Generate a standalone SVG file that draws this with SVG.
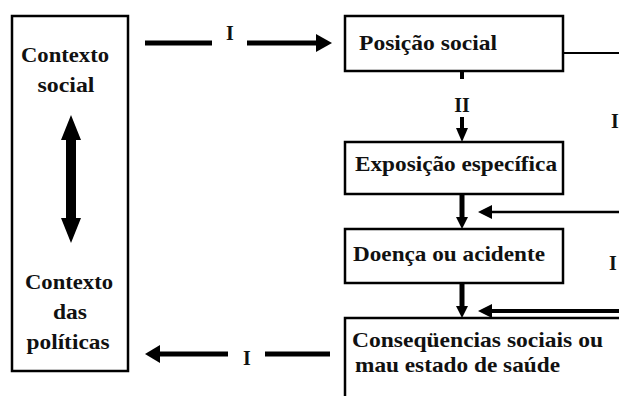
<svg xmlns="http://www.w3.org/2000/svg" width="619" height="396" viewBox="0 0 619 396">
<style>
.box{fill:#fff;stroke:#000;stroke-width:2.5}
.t{font-family:"Liberation Serif","Times New Roman",serif;font-weight:bold;fill:#111}
.bt{font-size:21px}
.lt{font-size:22px}
.lb{font-size:20px}
.ln{stroke:#000;fill:none}
.hd{fill:#000;stroke:none}
</style>
<rect width="619" height="396" fill="#fff"/>
<g id="contexto">
<rect class="box" x="12" y="16" width="116" height="355"/>
<text class="t lt" x="65" y="62" text-anchor="middle" textLength="88" lengthAdjust="spacingAndGlyphs">Contexto</text>
<text class="t lt" x="66" y="92" text-anchor="middle" textLength="57" lengthAdjust="spacingAndGlyphs">social</text>
<polygon class="hd" points="71,115 81,140 76,140 76,218 81,218 71,243 61,218 66,218 66,140 61,140"/>
<text class="t lt" x="69" y="289" text-anchor="middle" textLength="88" lengthAdjust="spacingAndGlyphs">Contexto</text>
<text class="t lt" x="70" y="319" text-anchor="middle" textLength="34" lengthAdjust="spacingAndGlyphs">das</text>
<text class="t lt" x="68" y="349" text-anchor="middle" textLength="83" lengthAdjust="spacingAndGlyphs">políticas</text>
</g>
<g id="posicao">
<rect class="box" x="345" y="16" width="218" height="55"/>
<text class="t bt" x="359" y="50" textLength="138" lengthAdjust="spacingAndGlyphs">Posição social</text>
</g>
<g id="exposicao">
<rect class="box" x="345" y="142" width="218" height="52"/>
<text class="t bt" x="355" y="171" textLength="202" lengthAdjust="spacingAndGlyphs">Exposição específica</text>
</g>
<g id="doenca">
<rect class="box" x="345" y="229" width="218" height="54"/>
<text class="t bt" x="353" y="261" textLength="192" lengthAdjust="spacingAndGlyphs">Doença ou acidente</text>
</g>
<g id="consequencias">
<rect class="box" x="345" y="318" width="290" height="100"/>
<text class="t bt" x="352" y="347" textLength="251" lengthAdjust="spacingAndGlyphs">Conseqüencias sociais ou</text>
<text class="t bt" x="355" y="372" textLength="205" lengthAdjust="spacingAndGlyphs">mau estado de saúde</text>
</g>
<g id="connectors">
<line class="ln" x1="145" y1="43" x2="212" y2="43" stroke-width="5"/>
<line class="ln" x1="247" y1="43" x2="318" y2="43" stroke-width="5"/>
<polygon class="hd" points="316,34 332,43 316,52"/>
<text class="t lb" x="230" y="40" text-anchor="middle">I</text>
<line class="ln" x1="330" y1="354" x2="265" y2="354" stroke-width="5"/>
<line class="ln" x1="228" y1="354" x2="158" y2="354" stroke-width="5"/>
<polygon class="hd" points="160,345 145,354 160,363"/>
<text class="t lb" x="247" y="365" text-anchor="middle">I</text>
<line class="ln" x1="563" y1="53" x2="619" y2="53" stroke-width="2"/>
<text class="t lb" x="615" y="128" text-anchor="middle">I</text>
<line class="ln" x1="462" y1="71" x2="462" y2="79" stroke-width="4"/>
<text class="t lb" x="462" y="112" text-anchor="middle">II</text>
<line class="ln" x1="462" y1="117" x2="462" y2="130" stroke-width="4"/>
<polygon class="hd" points="456,128 468,128 462,142"/>
<line class="ln" x1="462" y1="194" x2="462" y2="218" stroke-width="5"/>
<polygon class="hd" points="456,217 468,217 462,229"/>
<line class="ln" x1="619" y1="212" x2="488" y2="212" stroke-width="2.5"/>
<polygon class="hd" points="492,205 478,212 492,219"/>
<text class="t lb" x="613" y="270" text-anchor="middle">I</text>
<line class="ln" x1="462" y1="283" x2="462" y2="307" stroke-width="5"/>
<polygon class="hd" points="456,306 468,306 462,318"/>
<line class="ln" x1="619" y1="311" x2="488" y2="311" stroke-width="4"/>
<polygon class="hd" points="492,304 478,311 492,318"/>
</g>
</svg>
